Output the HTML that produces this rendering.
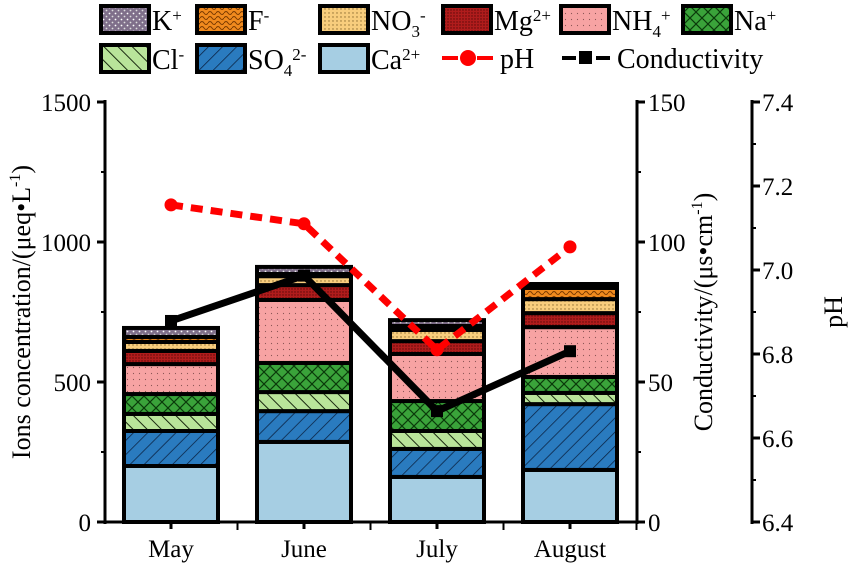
<!DOCTYPE html>
<html><head><meta charset="utf-8"><style>
body{margin:0;background:#fff}
svg text{font-family:"Liberation Serif",serif;fill:#000}
</style></head><body>
<svg id="c" width="851" height="564" xmlns="http://www.w3.org/2000/svg">
<defs>
<pattern id="pK" width="6" height="6" patternUnits="userSpaceOnUse"><rect width="6" height="6" fill="#7f6f8a"/><circle cx="1.5" cy="1.5" r="0.9" fill="#fff"/><circle cx="4.5" cy="4.5" r="0.9" fill="#ddd"/></pattern>
<pattern id="pF" width="8" height="5" patternUnits="userSpaceOnUse"><rect width="8" height="5" fill="#f08a1e"/><path d="M0 3 Q2 0 4 3 T8 3" stroke="#7a3a00" fill="none" stroke-width="1"/></pattern>
<pattern id="pN" width="4" height="4" patternUnits="userSpaceOnUse"><rect width="4" height="4" fill="#f8cd7d"/><circle cx="1" cy="1" r="0.7" fill="#8a6a30"/></pattern>
<pattern id="pM" width="3" height="3" patternUnits="userSpaceOnUse"><rect width="3" height="3" fill="#b01c1c"/><circle cx="1" cy="1" r="0.7" fill="#5a0808"/></pattern>
<pattern id="pH4" width="6" height="6" patternUnits="userSpaceOnUse"><rect width="6" height="6" fill="#f7a3a3"/><circle cx="1.5" cy="1.5" r="0.6" fill="#8a5555"/></pattern>
<pattern id="pNa" width="12" height="12" patternUnits="userSpaceOnUse"><rect width="12" height="12" fill="#3aa33a"/><path d="M0 0L12 12M12 0L0 12" stroke="#0a3a0a" stroke-width="1.2"/></pattern>
<pattern id="pCl" width="10" height="10" patternUnits="userSpaceOnUse" patternTransform="rotate(-45)"><rect width="10" height="10" fill="#b9e49a"/><line x1="0" y1="0" x2="0" y2="10" stroke="#1a2a10" stroke-width="2"/></pattern>
<pattern id="pS" width="10" height="10" patternUnits="userSpaceOnUse" patternTransform="rotate(45)"><rect width="10" height="10" fill="#2a7bbf"/><line x1="0" y1="0" x2="0" y2="10" stroke="#0a2040" stroke-width="1.5"/></pattern>
</defs>
<g id="legend"></g>
<g id="plot"></g>
</svg>
<script>
const categories=["May","June","July","August"];
const ions=["Ca2+","SO42-","Cl-","Na+","NH4+","Mg2+","NO3-","F-","K+"];
const ca=[200,286,161,186];
const so4=[125,110,100,235];
const cl=[61,68,64,40];
const na=[71,104,107,57];
const nh4=[107,225,168,178];
const mg=[47,53,46,50];
const no3=[32,32,40,50];
const f=[18,8,14,40];
const k=[32,25,21,14];
const ph=[7.155,7.11,6.81,7.055];
const cond=[71.8,88,39.6,61];
const leftTicks=[0,500,1000,1500];
const condTicks=[0,50,100,150];
const phTicks=[6.4,6.6,6.8,7.0,7.2,7.4];
const series=[ca,so4,cl,na,nh4,mg,no3,f,k];
const fills=["#a6cee3","url(#pS)","url(#pCl)","url(#pNa)","url(#pH4)","url(#pM)","url(#pN)","url(#pF)","url(#pK)"];
const NS="http://www.w3.org/2000/svg";
const svg=document.getElementById('plot');
function el(t,a,p){const e=document.createElementNS(NS,t);for(const x in a)e.setAttribute(x,a[x]);(p||svg).appendChild(e);return e;}
const X0=105,X1=637,XP=752,Y0=522,Y1=102;
const yL=v=>Y0-(v/1500)*(Y0-Y1);
const yC=v=>Y0-(v/150)*(Y0-Y1);
const yP=v=>Y0-((v-6.4)/1.0)*(Y0-Y1);
const xC=i=>171+i*133;
const bw=94;
categories.forEach((c,i)=>{let acc=0;
 series.forEach((s,j)=>{const y1=yL(acc),y2=yL(acc+s[i]);acc+=s[i];
  const r=el('rect',{x:xC(i)-bw/2,y:y2,width:bw,height:y1-y2,fill:fills[j],stroke:'#000','stroke-width':4});
  
  
 });
 const t=el('text',{x:xC(i),y:557,'font-size':25,'text-anchor':'middle'});t.textContent=c;
 
});
el('line',{x1:X0,y1:Y1-2,x2:X0,y2:Y0+2,stroke:'#000','stroke-width':3});
el('line',{x1:X0-2,y1:Y0,x2:X1+2,y2:Y0,stroke:'#000','stroke-width':3});
el('line',{x1:X1,y1:Y1-2,x2:X1,y2:Y0+2,stroke:'#000','stroke-width':3});
el('line',{x1:XP,y1:Y1-2,x2:XP,y2:Y0+2,stroke:'#000','stroke-width':3});
categories.forEach((c,i)=>{el('line',{x1:xC(i)+66.5,y1:Y0,x2:xC(i)+66.5,y2:Y0+8,stroke:'#000','stroke-width':2});el('line',{x1:xC(i),y1:Y0,x2:xC(i),y2:Y0+7,stroke:'#000','stroke-width':3});});
leftTicks.forEach(v=>{el('line',{x1:X0-8,y1:yL(v),x2:X0,y2:yL(v),stroke:'#000','stroke-width':3});
 const t=el('text',{x:91,y:yL(v)+9,'font-size':25,'text-anchor':'end'});t.textContent=v;
 
 if(v<1500)el('line',{x1:X0-4,y1:yL(v+250),x2:X0,y2:yL(v+250),stroke:'#000','stroke-width':2});});
condTicks.forEach(v=>{el('line',{x1:X1,y1:yC(v),x2:X1+8,y2:yC(v),stroke:'#000','stroke-width':3});
 const t=el('text',{x:648,y:yC(v)+9,'font-size':25});t.textContent=v;
 
 if(v<150)el('line',{x1:X1,y1:yC(v+25),x2:X1+4,y2:yC(v+25),stroke:'#000','stroke-width':2});});
phTicks.forEach(v=>{el('line',{x1:XP,y1:yP(v),x2:XP+8,y2:yP(v),stroke:'#000','stroke-width':3});
 const t=el('text',{x:762,y:yP(v)+9,'font-size':25});t.textContent=v.toFixed(1);
 
 if(v<7.4)el('line',{x1:XP,y1:yP(v+0.1),x2:XP+4,y2:yP(v+0.1),stroke:'#000','stroke-width':2});});
const cp=cond.map((v,i)=>xC(i)+','+yC(v)).join(' ');
const cl1=el('polyline',{points:cp,fill:'none',stroke:'#000','stroke-width':7});

cond.forEach((v,i)=>{const m=el('rect',{x:xC(i)-6,y:yC(v)-6,width:12,height:12,fill:'#000'});
 });
const pp=ph.map((v,i)=>xC(i)+','+yP(v)).join(' ');
const pl=el('polyline',{points:pp,fill:'none',stroke:'#f00','stroke-width':7,'stroke-dasharray':'12 8'});

ph.forEach((v,i)=>{const m=el('circle',{cx:xC(i),cy:yP(v),r:6.5,fill:'#f00'});
 });
function title(x,y,txt,name){const t=el('text',{x:x,y:y,'font-size':26,'text-anchor':'middle',transform:'rotate(-90 '+x+' '+y+')'});t.innerHTML=txt;
 }
title(30,312,'Ions concentration/(μeq•L<tspan dy="-10" font-size="16">-1</tspan><tspan dy="10">)</tspan>','left-axis-title');
title(712,312,'Conductivity/(μs•cm<tspan dy="-10" font-size="16">-1</tspan><tspan dy="10">)</tspan>','conductivity-axis-title');
title(842,312,'pH','ph-axis-title');
const lg=document.getElementById('legend');
const items=[[101,6,"url(#pK)",'K<tspan dy="-9" font-size="17">+</tspan>','legend-k'],
[197,6,"url(#pF)",'F<tspan dy="-9" font-size="17">-</tspan>','legend-f'],
[320,6,"url(#pN)",'NO<tspan dy="7" font-size="17">3</tspan><tspan dy="-16" font-size="17">-</tspan>','legend-no3'],
[443,6,"url(#pM)",'Mg<tspan dy="-9" font-size="17">2+</tspan>','legend-mg'],
[561,6,"url(#pH4)",'NH<tspan dy="7" font-size="17">4</tspan><tspan dy="-16" font-size="17">+</tspan>','legend-nh4'],
[683,6,"url(#pNa)",'Na<tspan dy="-9" font-size="17">+</tspan>','legend-na'],
[101,45,"url(#pCl)",'Cl<tspan dy="-9" font-size="17">-</tspan>','legend-cl'],
[197,45,"url(#pS)",'SO<tspan dy="7" font-size="17">4</tspan><tspan dy="-16" font-size="17">2-</tspan>','legend-so4'],
[320,45,"#a6cee3",'Ca<tspan dy="-9" font-size="17">2+</tspan>','legend-ca']];
items.forEach(it=>{const g=el('g',{},lg);
 el('rect',{x:it[0],y:it[1],width:48,height:27,fill:it[2],stroke:'#000','stroke-width':4},g);
 const t=el('text',{x:it[0]+51,y:it[1]+24,'font-size':28},g);t.innerHTML=it[3];});
const g1=el('g',{},lg);
el('line',{x1:442,y1:58,x2:493,y2:58,stroke:'#f00','stroke-width':4,'stroke-dasharray':'16 19 16'},g1);
el('circle',{cx:468,cy:58,r:8,fill:'#f00'},g1);
el('text',{x:500,y:68,'font-size':28},g1).textContent='pH';
const g2=el('g',{},lg);
el('line',{x1:562,y1:58,x2:610,y2:58,stroke:'#000','stroke-width':4,'stroke-dasharray':'14 20 14'},g2);
el('rect',{x:579,y:51,width:13,height:13,fill:'#000'},g2);
el('text',{x:617,y:68,'font-size':28},g2).textContent='Conductivity';
</script>
</body></html>
